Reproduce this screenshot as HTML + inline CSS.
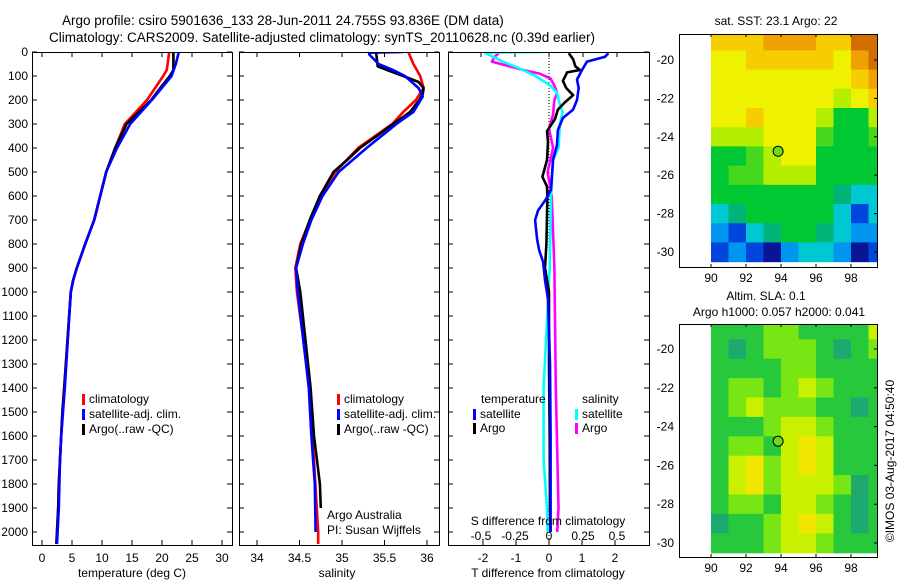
<!DOCTYPE html>
<html><head><meta charset="utf-8"><style>
html,body{margin:0;padding:0;background:#fff;}
svg{display:block;font-family:"Liberation Sans",sans-serif;}
text{font-size:12px;fill:#000;}
</style></head><body>
<svg id="fig" width="900" height="580" viewBox="0 0 900 580" xmlns="http://www.w3.org/2000/svg">
<text x="62" y="25" style="font-size:13.5px">Argo profile: csiro 5901636_133 28-Jun-2011 24.755S 93.836E (DM data)</text>
<text x="49" y="42" style="font-size:13.5px">Climatology: CARS2009. Satellite-adjusted climatology: synTS_20110628.nc (0.39d earlier)</text>
<g id="layer"></g>
</svg>
<script>
// ---- profile data ----
const depthTicks=[0,100,200,300,400,500,600,700,800,900,1000,1100,1200,1300,1400,1500,1600,1700,1800,1900,2000];
const tempTicks=[0,5,10,15,20,25,30];
const salTicks=[34,34.5,35,35.5,36];
const tdiffTicks=[-2,-1,0,1,2];
const sdiffTicks=[-0.5,-0.25,0,0.25,0.5];
const sdiffLabels=["-0.5","-0.25","0","0.25","0.5"];

const tArgoD=[0,75,100,150,200,300,400,500,600,700,800,900,950,1000,1400,1500,1600,1700,1800,1900,2000,2050];
const tArgoV=[21.9,21.9,21.3,19.7,18.2,14.1,12.2,10.7,9.7,8.7,7.2,5.8,5.2,4.8,3.7,3.4,3.2,3.0,2.8,2.7,2.5,2.4];
const tClimD=[0,75,100,200,300,400,500,600,700,800,900,950,1000,1400,1500,1600,1700,1800,1900,2000,2050];
const tClimV=[21.2,20.8,20.2,17.5,13.8,12.2,10.7,9.7,8.7,7.2,5.8,5.2,4.8,3.7,3.4,3.2,3.0,2.8,2.7,2.5,2.4];
const tSatD=[0,50,100,200,300,400,500,600,700,800,900,950,1000,1400,1500,1600,1700,1800,1900,2000,2050];
const tSatV=[22.8,22.3,21.6,18.3,14.7,12.5,10.7,9.7,8.7,7.2,5.8,5.2,4.8,3.8,3.5,3.2,3.0,2.9,2.8,2.6,2.5];

const sArgoD=[0,25,60,75,100,125,150,175,200,250,300,350,400,450,500,600,700,800,900,1000,1400,1600,1800,1900];
const sArgoV=[35.40,35.41,35.42,35.53,35.72,35.90,35.96,35.95,35.91,35.80,35.60,35.41,35.21,35.06,34.90,34.74,34.62,34.52,34.46,34.51,34.63,34.67,34.74,34.75];
const sClimD=[0,50,100,150,200,250,300,400,500,600,800,900,1000,1400,2000,2050];
const sClimV=[35.78,35.84,35.92,35.96,35.87,35.72,35.59,35.19,34.92,34.74,34.51,34.45,34.47,34.62,34.72,34.72];
const sSatD=[0,3,10,50,75,100,150,185,250,300,400,500,600,700,800,900,1000,1400,1600,1800,2000];
const sSatV=[35.72,35.32,35.32,35.43,35.60,35.74,35.90,35.95,35.84,35.64,35.29,34.96,34.77,34.64,34.54,34.46,34.48,34.61,34.64,34.68,34.69];

const dTSatD=[5,20,40,75,115,150,200,240,275,325,390,450,575,615,660,700,780,825,875,950,1030,1300,1600,2000];
const dTSatV=[1.8,1.7,1.15,1.0,0.85,0.9,0.85,0.73,0.42,0.27,0.24,0.12,0.06,-0.1,-0.33,-0.42,-0.36,-0.3,-0.18,-0.12,-0.03,0.03,0.05,0.05];
const dTArgoD=[5,30,60,75,85,120,150,180,210,240,280,330,375,450,520,560,600,800,900,1000,1300,1600,1900,2000];
const dTArgoV=[0.6,0.73,0.8,0.94,0.55,0.42,0.52,0.73,0.48,0.27,0.18,-0.06,-0.03,-0.06,-0.2,-0.06,-0.05,-0.08,-0.12,0.0,0.0,0.02,0.03,0.05];
const dSSatD=[0,3,15,40,70,100,140,170,200,250,300,400,450,600,900,1400,1700,1900,2000];
const dSSatV=[-0.05,-0.47,-0.43,-0.34,-0.21,-0.1,0.01,0.06,0.07,0.1,0.08,0.07,0.03,0.015,0.005,-0.04,-0.04,-0.015,-0.01];
const dSArgoD=[0,20,40,55,75,90,110,140,170,200,260,320,400,500,600,900,1400,1900,2000];
const dSArgoV=[-0.36,-0.4,-0.42,-0.32,-0.19,-0.07,0.01,0.04,0.06,0.04,0.03,0.0,0.03,-0.01,0.02,0.04,0.05,0.07,0.06];

// ---- map data ----
const mapLons=[90,91,92,93,94,95,96,97,98,99];
const mapLats=[-19,-20,-21,-22,-23,-24,-25,-26,-27,-28,-29,-30];
const sstIdx=[
[9,9,9,10,10,10,9,9,11,11],
[8,8,9,9,9,9,9,8,10,11],
[8,8,8,8,8,8,8,8,9,10],
[8,8,8,8,8,8,8,7,8,9],
[8,8,9,8,8,8,7,5,5,7],
[7,7,7,8,8,8,6,5,5,6],
[5,5,6,7,8,8,5,5,5,5],
[5,6,6,7,7,7,5,5,5,5],
[5,5,5,5,5,5,5,4,3,3],
[3,4,5,5,5,5,5,3,1,3],
[2,1,3,4,5,5,4,3,2,2],
[1,2,1,0,2,3,3,2,0,1]];
const slaIdx=[
[2,2,2,3,3,2,2,2,2,4],
[2,1,2,3,3,3,2,1,2,3],
[2,2,2,2,3,3,2,2,2,2],
[2,3,3,2,3,4,3,2,2,2],
[2,3,4,3,3,3,2,2,1,2],
[2,2,2,3,4,4,3,2,2,2],
[2,3,3,2,4,5,4,2,2,2],
[2,4,5,3,4,5,4,2,2,2],
[2,4,5,3,4,4,4,3,1,2],
[2,3,3,2,4,4,3,2,1,2],
[1,2,2,3,4,5,4,2,1,2],
[2,2,2,3,4,4,3,2,2,2]];
const argoLon=93.836, argoLat=-24.755;
const mapLonTicks=[90,92,94,96,98];
const mapLatTicks=[-20,-22,-24,-26,-28,-30];
const sstPal=['#0a1496','#0046dc','#0096f0','#00c8d2','#00b478','#00c832','#46d81e','#b4ee00','#eef200','#f5cd00','#f0a000','#d26e00'];
const slaPal=['#0a8c78','#1eaa6e','#28c83c','#78e614','#c8f000','#f0e600','#f0b400'];

const NS='http://www.w3.org/2000/svg';
const layer=document.getElementById('layer');
function mk(tag,attrs,name,parent){const e=document.createElementNS(NS,tag);for(const k in attrs)e.setAttribute(k,attrs[k]);


(parent||layer).appendChild(e);return e;}
function txt(x,y,s,name,anchor,size,parent){const t=mk('text',{x:x,y:y,'text-anchor':anchor||'start'},name,parent);if(size)t.style.fontSize=size+'px';t.textContent=s;return t;}

const yD=d=>52+d*0.24;
const Y0=52,Y1=545;
const P1={x0:32,x1:232,f:v=>42+6*v};
const P2={x0:239,x1:439,f:v=>257+85*(v-34)};
const P3={x0:448,x1:649,fT:v=>549+33*v,fS:v=>549+136*v};

function frame(x0,y0,x1,y1,name){mk('rect',{x:x0+0.5,y:y0+0.5,width:x1-x0,height:y1-y0,fill:'none',stroke:'#000','stroke-width':1},name);}
function line(D,V,fx,color,name,clipId){const pts=D.map((d,i)=>fx(V[i]).toFixed(1)+','+yD(d).toFixed(1)).join(' ');
const p=mk('polyline',{points:pts,fill:'none',stroke:color,'stroke-width':2.6,'stroke-linejoin':'round','clip-path':'url(#'+clipId+')'},name);return p;}

// clip paths
const defs=mk('defs',{},'clip-defs');
[['c1',P1],['c2',P2],['c3',P3]].forEach(([id,P])=>{const c=mk('clipPath',{id:id},'clip-'+id,defs);mk('rect',{x:P.x0,y:Y0,width:P.x1-P.x0,height:Y1-Y0},'clip-rect',c);});

// depth ticks
depthTicks.forEach(d=>{const y=yD(d);txt(28,y+4,String(d),'depth-tick-label','end');
[P1,P2,P3].forEach(P=>{mk('line',{x1:P.x0,x2:P.x0+5,y1:y,y2:y,stroke:'#000'},'depth-tick');mk('line',{x1:P.x1-5,x2:P.x1,y1:y,y2:y,stroke:'#000'},'depth-tick');});});

function xticks(vals,labels,fx,name,topTicks,bottomLabels){vals.forEach((v,i)=>{const x=fx(v);
mk('line',{x1:x,x2:x,y1:Y1-5,y2:Y1,stroke:'#000'},name+'-tick');
if(topTicks)mk('line',{x1:x,x2:x,y1:Y0,y2:Y0+5,stroke:'#000'},name+'-tick');
if(bottomLabels)txt(x,562,labels[i],name+'-label','middle');});}
xticks(tempTicks,tempTicks.map(String),P1.f,'temp',true,true);
xticks(salTicks,salTicks.map(String),P2.f,'sal',true,true);
xticks(tdiffTicks,tdiffTicks.map(String),P3.fT,'tdiff',false,true);
sdiffTicks.forEach((v,i)=>{const x=P3.fS(v);mk('line',{x1:x,x2:x,y1:Y0,y2:Y0+5,stroke:'#000'},'sdiff-tick');txt(x,540,sdiffLabels[i],'sdiff-label','middle');});

// lines
line(tClimD,tClimV,P1.f,'#ff0000','temp-climatology-line','c1');
line(tArgoD,tArgoV,P1.f,'#000000','temp-argo-line','c1');
line(tSatD,tSatV,P1.f,'#0000ff','temp-satellite-line','c1');
line(sClimD,sClimV,P2.f,'#ff0000','sal-climatology-line','c2');
line(sArgoD,sArgoV,P2.f,'#000000','sal-argo-line','c2');
line(sSatD,sSatV,P2.f,'#0000ff','sal-satellite-line','c2');
mk('line',{x1:549,x2:549,y1:Y0,y2:Y1,stroke:'#000','stroke-dasharray':'1,2'},'zero-line');
line(dSArgoD,dSArgoV,P3.fS,'#ff00ff','sdiff-argo-line','c3');
line(dSSatD,dSSatV,P3.fS,'#00ffff','sdiff-satellite-line','c3');
line(dTArgoD,dTArgoV,P3.fT,'#000000','tdiff-argo-line','c3');
line(dTSatD,dTSatV,P3.fT,'#0000ff','tdiff-satellite-line','c3');

frame(P1.x0,Y0,P1.x1,Y1,'temperature-panel-frame');
frame(P2.x0,Y0,P2.x1,Y1,'salinity-panel-frame');
frame(P3.x0,Y0,P3.x1,Y1,'difference-panel-frame');

// legends
function leg(x,y,color,label,name){mk('rect',{x:x,y:y-9,width:3,height:11,fill:color},name+'-swatch');txt(x+7,y,label,name);}
[[82,P1],[337,P2]].forEach(([lx,P],k)=>{const pre=k?'sal':'temp';
leg(lx,403,'#ff0000','climatology',pre+'-legend-climatology');
leg(lx,418,'#0000ff','satellite-adj. clim.',pre+'-legend-satellite');
leg(lx,433,'#000000','Argo(..raw -QC)',pre+'-legend-argo');});
txt(481,403,'temperature','legend-temperature-heading');
txt(582,403,'salinity','legend-salinity-heading');
leg(473,418,'#0000ff','satellite','legend-tdiff-satellite');
leg(473,432,'#000000','Argo','legend-tdiff-argo');
leg(575,418,'#00ffff','satellite','legend-sdiff-satellite');
leg(575,432,'#ff00ff','Argo','legend-sdiff-argo');
txt(327,519,'Argo Australia','credit-argo-australia');
txt(327,534,'PI: Susan Wijffels','credit-pi');
txt(548,525,'S difference from climatology','sdiff-axis-title','middle');
txt(132,577,'temperature (deg C)','temp-axis-title','middle');
txt(337,577,'salinity','sal-axis-title','middle');
txt(548,577,'T difference from climatology','tdiff-axis-title','middle');

// maps
function map(top,bot,yLat,idx,pal,name,clipId){
const fx=lon=>711+17.5*(lon-90);
const c=mk('clipPath',{id:clipId},name+'-clip',defs);mk('rect',{x:711,y:top,width:877-711,height:bot-top-1},'clip-rect',c);
const g=mk('g',{'clip-path':'url(#'+clipId+')'},name+'-cells');
mapLats.forEach((lat,j)=>mapLons.forEach((lon,i)=>{
const x=fx(lon),y=yLat(lat+0.5),h=yLat(lat-0.5)-y;
mk('rect',{x:x,y:y,width:17.5+0.6,height:h+0.6,fill:pal[idx[j][i]]},name+'-cell',g);}));
mk('circle',{cx:fx(argoLon),cy:yLat(argoLat),r:5,fill:'#6edc14',stroke:'#000','stroke-width':1},name+'-argo-marker');
frame(679,top,877,bot,name+'-frame');
mapLonTicks.forEach(l=>{const x=fx(l);mk('line',{x1:x,x2:x,y1:top,y2:top+3,stroke:'#000'},name+'-lon-tick');mk('line',{x1:x,x2:x,y1:bot-3,y2:bot,stroke:'#000'},name+'-lon-tick');txt(x,bot+15,String(l),name+'-lon-label','middle');});
mapLatTicks.forEach(l=>{const y=yLat(l);mk('line',{x1:874,x2:877,y1:y,y2:y,stroke:'#000'},name+'-lat-tick');txt(674,y+4,String(l),name+'-lat-label','end');});
}
map(34,267,lat=>60+(-20-lat)*19.2,sstIdx,sstPal,'sst-map','cm1');
map(324,557,lat=>349+(-20-lat)*19.4,slaIdx,slaPal,'sla-map','cm2');
txt(776,25,'sat. SST: 23.1  Argo: 22','sst-map-title','middle');
txt(766,300,'Altim. SLA: 0.1','sla-map-title','middle');
txt(779,316,'Argo h1000: 0.057 h2000: 0.041','argo-height-title','middle');
const r=txt(0,0,'©IMOS 03-Aug-2017 04:50:40','timestamp-label','middle');
r.setAttribute('transform','translate(894,461) rotate(-90)');
</script>
</body></html>
